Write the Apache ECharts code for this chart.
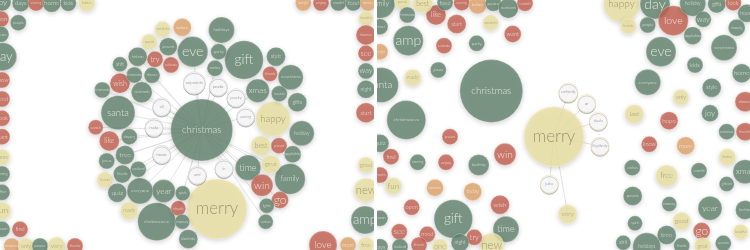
<!DOCTYPE html>
<html><head><meta charset="utf-8">
<script src="https://cdn.jsdelivr.net/npm/echarts@6/dist/echarts.min.js"></script>
<style>
html,body{margin:0;padding:0;background:#fff;overflow:hidden;width:750px;height:250px}
#left{position:absolute;left:0;top:0;width:374px;height:250px}
#right{position:absolute;left:377px;top:0;width:373px;height:250px}
</style>
</head><body>
<div id="left"></div><div id="right"></div>
<script>
// ---------- LEFT PANEL (network around "christmas") ----------
const leftWords = ["christmas","merry","gift","eve","santa","christmaseve","happy","family","holidays","holiday","xmas","time","year","everyone","merrychristmas","win","go","wish","like","try","celebrate","thank","present","check","watch","before","wonderful","special","best","great","favorite","ready","presents","party","cookies","style","music","gifts","fashion","shit","christmastree","dinner","needwords","christmasday","shopping","tree","jesus","friends","weekend","quiz","spirit","money","blackfriday","happyholidays","lights","wishes",
  "conjunctivitis","possible","jewelry","earring","all","make","honor","and","in",
  "joy","days","evening","home","kids","festive","open","people","house","day","show","need","book","want","some","morning","officer","fun","season","find","tomorrow","only","peace","very","thanks",
  "tonight","enjoy","world","food","today","beautiful","discover","see","way","night","start","good","new","amp","love","more","free"];
const leftX = [201.7,217,244,192.7,118,156.7,273,290,221.5,301.7,257.7,248,163.7,140,290.7,262,280,120,109.3,155,171,270,279,178.3,95.7,182.3,162.7,149.3,261,270.7,105,129.3,168.3,218.7,215,276,279.3,297.3,137.7,120,134.3,152,141.7,102.3,129.3,125,106.7,122.3,138.3,117.3,182.7,182.3,188.3,292.7,266.7,265.7,
  194.3,218.3,236,245.7,161.7,154,161.7,197.3,224,
  2,20.7,36,51.7,68.3,86.7,1,18.3,1,2.7,2,2,2,2,2,2,2,2,2,20,11.7,26,40,56.7,75,
  303.3,321,338.3,353.3,368,366,366,366,366,366,366,366,366,365,323,348,366];
const leftY = [130,209,60,51.7,112.7,221.7,119,179,30,133.3,90.7,167.7,191,191,77.3,185.3,200,83.3,141,59.3,65,74,145.7,208.3,127.3,27.3,29.3,42,145.7,164.3,180,210.7,46.7,51.7,68.3,56.7,93.7,102.3,56.7,64.3,75,75.3,92.3,90,136.7,155,161,174,169.3,192.7,193.3,221.7,239,154.3,205.7,221.7,
  82.7,86.7,97.7,116.7,106.7,127.3,154.3,175,168.3,
  2,3.3,3,3.3,3.3,3,19,22.7,34.3,56.7,80,99,118.3,136.7,157,174,192.3,210.7,229.3,229.3,246,246,246,246,246,
  3,3,3,3,3,18.3,35,53.3,71,89.3,112.7,165,190,220,245,245,245];
const leftR = [31,30,19.3,15.2,17,19,17.3,15.3,13,12.5,11.7,12.7,11.5,13,12.5,11,8.5,10,10,8,8,7.5,8,7.5,7.5,9,8,8,10,9.5,8,9,9,8,8,9.5,8,9.5,9.5,7.5,8,8,10.5,8,8,9.5,8,9,8,9.5,7.5,7.5,9.5,8.5,7.5,7.5,
  11,9,9,9,9,9,9,9,9,
  9,8.5,8,9,8,8.5,8,8,8,14,8,8,8,8,8,8,8,9,8,8,8,8,8,9,8,
  8,8,8,8,8,7.5,10,8,8,9,10,8,12,14,14,8,8];
const leftColor = ["g","y","g","g","g","g","y","g","g","g","g","g","g","g","g","r","r","r","r","r","r","r","r","r","r","o","y","y","y","y","y","y","g","g","g","g","g","g","g","g","g","g","g","g","g","g","g","g","g","g","g","g","g","g","g","g",
  "w","w","w","w","w","w","w","w","w",
  "g","g","r","g","g","y","r","g","g","g","r","r","r","r","y","g","g","y","g","r","o","y","g","y","r",
  "o","r","g","g","o","y","r","r","g","g","r","y","y","g","r","o","y"];
const leftHub = "christmas";
const leftLinks = ["conjunctivitis","possible","jewelry","earring","all","make","honor","and","in","santa","wish","watch","like","shopping","tree","jesus","friends","weekend","quiz","everyone","year","spirit","christmastree","dinner","needwords","christmasday","lights","wishes","win","time","go","fashion","cookies","party","eve","xmas","great","family","check"];

// ---------- RIGHT PANEL (clusters around "merry") ----------
const rightWords = ["christmas","merry","amp","christmaseve","santa","gift","time","new","win","wish","try","night","blackfriday","present","enjoy","morning","find","quiz","check","fun","tomorrow","today","open","season","see","need","thank","weekend","days","one","ready","jesus","celebrate","party","start","like","wonderful","want","family","special","best","food","evening","before","peace","needwords","watch","christmastree","dinner","tonight",
  "ecofriendly","or","duels","frugalfamily","juice","very",
  "happy","day","love","holiday","gifts","look","house","favorite","people","way","happyholidays","shopping","eve","merrychristmas","kids","everyone","home","style","only","discover","last","hope","joy","know","more","santaclaus","thanks","festive","wishes","free","world","xmas","giftcard","presents","money","year","fashion","good","spirit","go","beautiful","tree","shit","holidays","friends","great","season"];
const rightX = [491.3,554,408.3,406.3,381,453.3,506,491.7,505,500,474.3,460,478.7,450,446,417.7,391,380,380,393.3,435,472.7,411.7,380,399.3,427.3,419,400,380,440,412.7,438.3,444,476.7,456.7,436,490.7,512.7,380,402.3,422.7,445,461.7,477.7,493.3,508.3,525,407.3,380,380,
  568.3,586.7,598.3,600,549.3,567.7,
  621.5,655,673.3,692.7,716.7,733.3,746.7,628.3,647.7,703.3,692.7,736.7,661,724,695,647.7,741.7,711.7,681,745,634.3,669,710,649.3,685.7,726.7,745,727.3,632.3,666.7,699,745,726.7,632.7,669.3,710,745,681.7,635,701.7,740.7,666.7,623.3,646.7,681.7,702.7,723.3];
const rightY = [91,136.7,40.7,120,85,219,229.3,245,154.3,204.7,237.3,242.7,165,136.7,162.3,162.3,156.7,143.3,175,186,187.7,191.7,207.3,218.3,231.7,234.3,245,246.7,246.7,246.7,77.7,70,45.7,43.3,24,15,22.7,34,3.3,1.7,3.3,2.7,2.7,5,3.3,8.3,3.3,15,26.7,51.7,
  92.3,103.3,121,146,184,214,
  4,4,20.7,3.3,4,2.7,13.3,26,25,19.3,35.7,27.7,51.7,47.7,65,82.3,73.3,87.7,97.3,101.7,114,120.7,113.3,144.3,145.7,131.7,131.7,157.3,167.7,176,170.7,171.7,184,196,204,208.3,210,221,223.3,231,231.7,235,242.7,246.7,245.7,246,243.3];
const rightR = [31.5,30,15,19.5,17.5,19.3,13,12,11,9.5,8,9,10.5,8,8,8,8,9,8,8.5,8.5,9,8,8,8,8,8,8,8,8,8.5,8,8,8,9.5,10,8,8.5,15,8,10,8,8,9,8,10,8,8,8,8,
  9.5,9,9,9,9,9.5,
  18,15,15,13,9,8,9,8,8,8,9,8.5,15,13,8,13,9.5,9.5,8,10,9.5,9,8.5,8,9,8,9,8.5,8,11,8,12,7.5,9.5,7.5,12,9.5,9,7.5,8.5,7.5,9.5,7.5,14,8,8.5,8];
const rightColor = ["g","y","g","g","g","g","g","y","r","r","r","g","g","r","r","g","r","g","r","y","o","o","r","g","r","r","r","g","g","y","y","g","r","g","r","r","y","r","g","y","y","g","r","o","g","g","r","g","g","o",
  "w","w","w","w","w","y",
  "y","g","r","g","g","r","g","y","g","g","g","g","g","g","g","g","g","g","y","r","y","r","g","r","o","g","r","y","g","y","g","g","g","g","g","g","g","y","g","r","y","g","g","g","g","y","g"];
const rightHub = "merry";
const rightLinks = ["ecofriendly","or","duels","frugalfamily","juice","very"];

// ---------- drawing ----------
const PALETTE = {
  g: {fill:'#62836e', text:'rgba(255,255,255,0.92)'},
  r: {fill:'#c4604f', text:'rgba(255,255,255,0.92)'},
  o: {fill:'#e2a56b', text:'rgba(255,255,255,0.92)'},
  y: {fill:'#eee3a2', text:'#8b8664'},
  w: {fill:'#ffffff', text:'#5b6272'}
};

function buildOption(words, xs, ys, rs, cs, hub, links, xmin, xmax, whiteBorder, linkColor) {
  const data = words.map((w, i) => {
    const p = PALETTE[cs[i]];
    let fs = Math.max(3, Math.min(18, 2.8 * rs[i] / w.length));
    if (cs[i] === 'w') fs = Math.min(fs, 4);
    return {
      name: w,
      value: [xs[i], ys[i]],
      symbolSize: rs[i] * 2,
      itemStyle: {
        color: p.fill,
        borderColor: cs[i] === 'w' ? whiteBorder : 'rgba(255,255,255,0.6)',
        borderWidth: cs[i] === 'w' ? 1 : 0.6,
        shadowBlur: cs[i] === 'w' ? 0 : 5,
        shadowColor: 'rgba(0,0,0,0.22)',
        shadowOffsetY: 1.5
      },
      label: {fontSize: fs, color: p.text}
    };
  });
  const hi = words.indexOf(hub);
  const lineData = links.map(t => {
    const ti = words.indexOf(t);
    return {coords: [[xs[hi], ys[hi]], [xs[ti], ys[ti]]]};
  });
  return {
    animation: false,
    backgroundColor: '#ffffff',
    grid: {left: 0, right: 0, top: 0, bottom: 0, containLabel: false},
    xAxis: {type: 'value', min: xmin, max: xmax, show: false},
    yAxis: {type: 'value', min: 0, max: 250, inverse: true, show: false},
    series: [
      {
        type: 'lines', coordinateSystem: 'cartesian2d', z: 1, silent: true,
        lineStyle: {color: linkColor, width: 0.7, opacity: 1, curveness: 0},
        data: lineData
      },
      {
        type: 'scatter', z: 3, clip: false, symbol: 'circle',
        label: {
          show: true, position: 'inside', formatter: '{b}',
          fontFamily: 'Lato, "Open Sans", sans-serif', fontWeight: 300
        },
        emphasis: {disabled: true},
        data: data
      }
    ]
  };
}

const leftChart = echarts.init(document.getElementById('left'), null, {renderer: 'canvas'});
leftChart.setOption(buildOption(leftWords, leftX, leftY, leftR, leftColor, leftHub, leftLinks, 0, 374, '#e0e0e0', '#dadada'));

const rightChart = echarts.init(document.getElementById('right'), null, {renderer: 'canvas'});
rightChart.setOption(buildOption(rightWords, rightX, rightY, rightR, rightColor, rightHub, rightLinks, 377, 750, '#f0e9c4', '#d6d6ca'));
</script>
</body></html>
